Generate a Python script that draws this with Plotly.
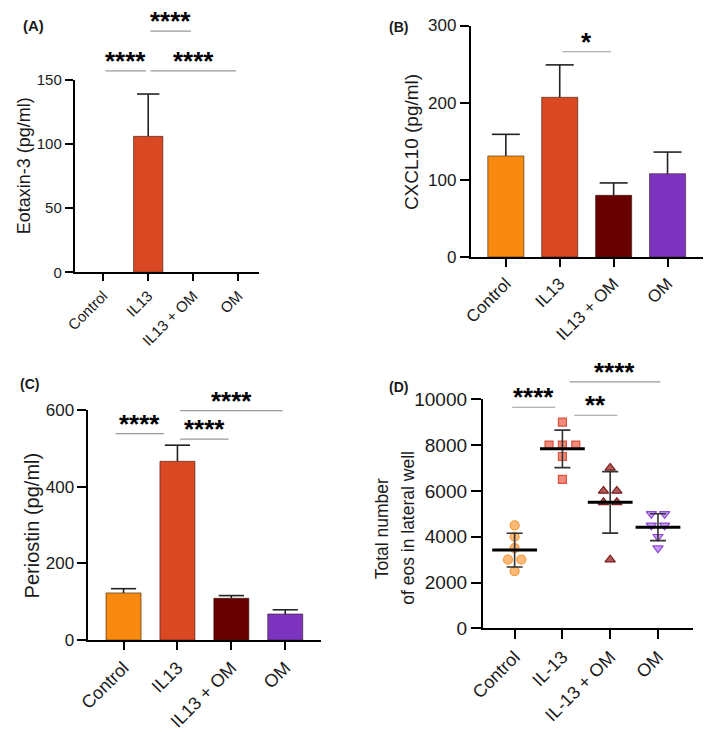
import numpy as np
import plotly.graph_objects as go

W, H = 709, 732

# ---------------- data ----------------
cats_bar = ["Control", "IL13", "IL13 + OM", "OM"]
cats_d = ["Control", "IL-13", "IL-13 + OM", "OM"]
bar_colors = ["#F88A0F", "#D94822", "#680000", "#7C33BF"]

eotaxin_mean = [0, 106, 0, 0]
eotaxin_err = [0, 33, 0, 0]

cxcl10_mean = [131, 207, 80, 108]
cxcl10_err = [28, 42, 16, 28]

periostin_mean = [123, 466, 109, 68]
periostin_err = [11, 42, 7, 11]

eos_control = [4500, 4000, 3500, 3000, 3000, 2500]
eos_il13 = [9000, 8000, 8000, 8000, 7500, 6500]
eos_il13_om = [7000, 6000, 6000, 5500, 5500, 3000]
eos_om = [5000, 5000, 4500, 4500, 4000, 3500]

# significance: (group i, group j, label, line level, x shift)
sig_a = [(0, 1, "****", 157, 0.0), (1, 3, "****", 157, 0.0), (1, 2, "****", 188, 0.0)]
sig_b = [(1, 2, "*", 266, 0.0)]
sig_c = [(0, 1, "****", 538, -0.2), (1, 2, "****", 524, 0.0), (1, 3, "****", 598, 0.0)]
sig_d = [(0, 1, "****", 9650, -0.1), (1, 2, "**", 9300, 0.2), (1, 3, "****", 10760, 0.1)]

# ---------------- layout helpers ----------------
def fx(px):
    return px / W

def fy(py):
    return 1 - py / H

FONT = "Liberation Sans, Arial, sans-serif"
TXT = "#1a1a1a"

panels = {
    # name: (x0, x1, ytop, ybottom, xrange, yrange, dtick, ytick font, xtick font, ticklen)
    "A": (62, 250, 72, 270, [-0.63, 3.46], [0, 150], 50, 15, 15, 8),
    "B": (466, 703, 16, 254.3, [-0.65, 3.66], [0, 300], 100, 17, 17, 9),
    "C": (76, 313, 411.7, 648.7, [-0.65, 3.66], [0, 600], 200, 17, 18, 9),
    "D": (478.3, 693, 400.7, 636.7, [-0.665, 3.74], [0, 10000], 2000, 19, 18, 10),
}
axis_ids = {"A": "", "B": "2", "C": "3", "D": "4"}


def to_px(name, xv, yv):
    x0, x1, yt, yb, xr, yr = panels[name][:6]
    px = x0 + (xv - xr[0]) / (xr[1] - xr[0]) * (x1 - x0)
    py = yb - (yv - yr[0]) / (yr[1] - yr[0]) * (yb - yt)
    return px, py


fig = go.Figure()
layout = dict(
    width=W, height=H, margin=dict(l=0, r=0, t=0, b=0),
    paper_bgcolor="white", plot_bgcolor="white", showlegend=False,
    font=dict(family=FONT, color=TXT),
)

for name, (x0, x1, yt, yb, xr, yr, dt, yfs, xfs, tl) in panels.items():
    sid = axis_ids[name]
    cats = cats_d if name == "D" else cats_bar
    layout["xaxis" + sid] = dict(
        domain=[fx(x0), fx(x1)], anchor="y" + sid, range=xr,
        tickmode="array", tickvals=list(range(len(cats))), ticktext=cats,
        tickangle=-45, ticks="outside", ticklen=tl - 1, tickwidth=2, tickcolor="black",
        showline=True, linewidth=2, linecolor="black", showgrid=False, zeroline=False,
        tickfont=dict(size=xfs, family=FONT, color=TXT), fixedrange=True,
    )
    layout["yaxis" + sid] = dict(
        domain=[fy(yb), fy(yt)], anchor="x" + sid, range=yr, dtick=dt, tick0=0,
        tickformat="d",
        ticks="outside", ticklen=tl, tickwidth=2, tickcolor="black",
        showline=True, linewidth=2, linecolor="black", showgrid=False, zeroline=False,
        tickfont=dict(size=yfs, family=FONT, color=TXT), fixedrange=True,
    )

fig.update_layout(**layout)

# ---------------- bar panels ----------------
def add_bars(sid, means, errs, width, capw):
    x = list(range(len(means)))
    ys = [m if m else None for m in means]
    fig.add_trace(go.Bar(
        x=x, y=ys, width=width,
        marker=dict(color=bar_colors, line=dict(color="rgba(40,20,10,0.55)", width=1)),
        error_y=dict(type="data", array=errs, arrayminus=[0] * len(errs), symmetric=False,
                     color="#222222", thickness=1.6, width=0),
        xaxis="x" + sid, yaxis="y" + sid, hoverinfo="skip",
    ))
    tops = [m + e if m else None for m, e in zip(means, errs)]
    fig.add_trace(go.Scatter(
        x=x, y=tops, mode="markers",
        marker=dict(symbol="line-ew", size=2 * capw, line=dict(color="#222222", width=1.6)),
        xaxis="x" + sid, yaxis="y" + sid, hoverinfo="skip", cliponaxis=False,
    ))

add_bars("", eotaxin_mean, eotaxin_err, 0.65, 8)
add_bars("2", cxcl10_mean, cxcl10_err, 0.67, 10)
add_bars("3", periostin_mean, periostin_err, 0.65, 9)

# ---------------- scatter panel D ----------------
groups = [eos_control, eos_il13, eos_il13_om, eos_om]
styles = [
    ("circle", "#FBBA78", "#F39A3A", 9),
    ("square", "#F28A7A", "#D9533F", 8),
    ("triangle-up", "#B35A5A", "#7A1E1E", 9),
    ("triangle-down", "#C79CF2", "#8C48D6", 9),
]
spacing = 0.28
means, sds = [], []
for gi, vals in enumerate(groups):
    vals = np.array(vals, dtype=float)
    xs = np.zeros(len(vals))
    for v in np.unique(vals):
        idx = np.where(vals == v)[0]
        n = len(idx)
        xs[idx] = gi + (np.arange(n) - (n - 1) / 2) * spacing
    sym, fill, edge, size = styles[gi]
    fig.add_trace(go.Scatter(
        x=xs, y=vals, mode="markers",
        marker=dict(symbol=sym, size=size, color=fill, line=dict(color=edge, width=1.2)),
        xaxis="x4", yaxis="y4", hoverinfo="skip",
    ))
    means.append(vals.mean())
    sds.append(vals.std(ddof=1))

fig.add_trace(go.Scatter(
    x=list(range(4)), y=means, mode="markers",
    marker=dict(symbol="line-ew", size=32, line=dict(color="black", width=3)),
    error_y=dict(type="data", array=sds, color="#333333", thickness=1.6, width=8),
    xaxis="x4", yaxis="y4", hoverinfo="skip",
))

# ---------------- significance brackets ----------------
def add_sig(name, sigs, fs):
    for i, j, lab, lvl, sh in sigs:
        xa, ya = to_px(name, i + 0.05 + sh, lvl)
        xb, _ = to_px(name, j - 0.05 + sh, lvl)
        fig.add_shape(type="line", x0=fx(xa), x1=fx(xb), y0=fy(ya), y1=fy(ya),
                      xref="paper", yref="paper",
                      line=dict(color="#9a9a9a", width=1.2), layer="above")
        fig.add_annotation(x=fx((xa + xb) / 2), y=fy(ya), xref="paper", yref="paper",
                           text=lab, showarrow=False, xanchor="center", yanchor="middle",
                           yshift=10,
                           font=dict(size=fs, family=FONT, color="black", weight="bold"))

add_sig("A", sig_a, 26)
add_sig("B", sig_b, 26)
add_sig("C", sig_c, 26)
add_sig("D", sig_d, 26)

# ---------------- titles & panel labels ----------------
def ann(text, x, y, size, bold=False, angle=0):
    fig.add_annotation(text=text, x=fx(x), y=fy(y), xref="paper", yref="paper",
                       showarrow=False, textangle=angle, xanchor="center", yanchor="middle",
                       font=dict(size=size, family=FONT, color=TXT,
                                 weight="bold" if bold else "normal"))

ann("Eotaxin-3 (pg/ml)", 11, 160, 18, angle=-90)
ann("CXCL10 (pg/ml)", 405, 136, 19, angle=-90)
ann("Periostin (pg/ml)", 18, 531, 20, angle=-90)
ann("Total number", 375, 534, 17.5, angle=-90)
ann("of eos in lateral well", 402, 533, 17.5, angle=-90)

ann("(A)", 20, 16, 15, bold=True)
ann("(B)", 392, 17, 14, bold=True)
ann("(C)", 16, 385, 14, bold=True)
ann("(D)", 392, 388, 14, bold=True)

fig.write_html("out.html")
